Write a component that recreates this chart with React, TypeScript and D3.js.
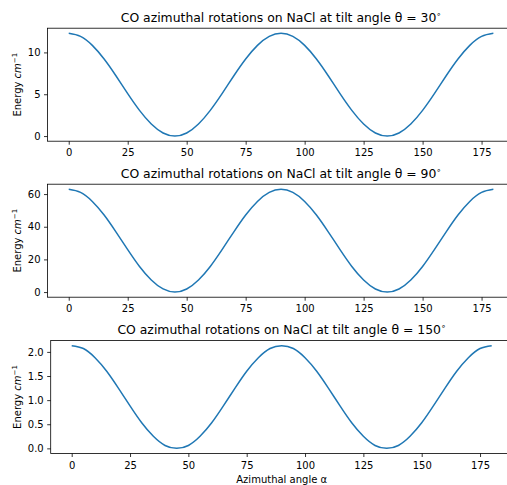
import React, { useEffect, useRef } from 'react';
import * as d3 from 'd3';

// azimuthal angle alpha (degrees)
const alpha = [0, 5, 10, 15, 20, 25, 30, 35, 40, 45, 50, 55, 60, 65, 70, 75, 80, 85, 90,
  95, 100, 105, 110, 115, 120, 125, 130, 135, 140, 145, 150, 155, 160, 165, 170, 175, 180];

// energies (cm^-1)
const energy30 = [12.28, 11.91, 10.84, 9.21, 7.21, 5.07, 3.07, 1.44, 0.37, 0.0, 0.37, 1.44, 3.07, 5.07,
  7.21, 9.21, 10.84, 11.91, 12.28, 11.91, 10.84, 9.21, 7.21, 5.07, 3.07, 1.44, 0.37, 0.0, 0.37, 1.44,
  3.07, 5.07, 7.21, 9.21, 10.84, 11.91, 12.28];
const energy90 = [62.9, 61.0, 55.5, 47.2, 36.9, 26.0, 15.7, 7.4, 1.9, 0.0, 1.9, 7.4, 15.7, 26.0,
  36.9, 47.2, 55.5, 61.0, 62.9, 61.0, 55.5, 47.2, 36.9, 26.0, 15.7, 7.4, 1.9, 0.0, 1.9, 7.4,
  15.7, 26.0, 36.9, 47.2, 55.5, 61.0, 62.9];
const energy150 = [2.13, 2.07, 1.88, 1.6, 1.25, 0.88, 0.53, 0.25, 0.06, 0.0, 0.06, 0.25, 0.53, 0.88,
  1.25, 1.6, 1.88, 2.07, 2.13, 2.07, 1.88, 1.6, 1.25, 0.88, 0.53, 0.25, 0.06, 0.0, 0.06, 0.25,
  0.53, 0.88, 1.25, 1.6, 1.88, 2.07, 2.13];

const tiltAngles = ['30', '90', '150'];
const xTicks = [0, 25, 50, 75, 100, 125, 150, 175];
const yTicks30 = [0, 5, 10];
const yTicks90 = [0, 20, 40, 60];
const yTicks150 = [0, 0.5, 1, 1.5, 2];
const yTickLabels150 = ['0.0', '0.5', '1.0', '1.5', '2.0'];

const FONT = 'DejaVu Sans, sans-serif';

const App = () => {
  const ref = useRef<SVGSVGElement>(null);

  useEffect(() => {
    const svg = d3.select(ref.current);
    svg.selectAll('*').remove();

    const panels = [
      { data: energy30, ticks: yTicks30, labels: yTicks30.map(String), top: 28.2, left: 47.5, right: 514.6 },
      { data: energy90, ticks: yTicks90, labels: yTicks90.map(String), top: 184.2, left: 47.5, right: 514.6 },
      { data: energy150, ticks: yTicks150, labels: yTickLabels150, top: 340.5, left: 50.7, right: 512.7 },
    ];
    const h = 113;

    panels.forEach((p, i) => {
      const g = svg.append('g');
      const bottom = p.top + h;

      // x axis with 5% margins like matplotlib
      const x = d3.scaleLinear().domain([-9, 189]).range([p.left, p.right]);
      const ymax = d3.max(p.data) as number;
      const ymin = d3.min(p.data) as number;
      const pad = (ymax - ymin) * 0.05;
      const y = d3.scaleLinear().domain([ymin - pad, ymax + pad]).range([bottom, p.top]);

      const line = d3.line<number>()
        .x((d, j) => x(alpha[j]))
        .y(d => y(d))
        .curve(d3.curveNatural);

      g.append('path')
        .attr('d', line(p.data))
        .attr('fill', 'none')
        .attr('stroke', '#1f77b4')
        .attr('stroke-width', 1.5);

      // spines
      g.append('rect')
        .attr('x', p.left).attr('y', p.top)
        .attr('width', p.right - p.left).attr('height', h)
        .attr('fill', 'none').attr('stroke', '#000').attr('stroke-width', 0.8);

      const xAxis = g.append('g')
        .attr('transform', `translate(0, ${bottom})`)
        .call(d3.axisBottom(x).tickValues(xTicks).tickSize(3.5).tickPadding(4.7).tickFormat(d => String(d)));
      const yAxis = g.append('g')
        .attr('transform', `translate(${p.left}, 0)`)
        .call(d3.axisLeft(y).tickValues(p.ticks).tickSize(3.5).tickPadding(3.5)
          .tickFormat((d, j) => p.labels[j]));

      [xAxis, yAxis].forEach(a => {
        a.select('.domain').remove();
        a.selectAll('line').attr('stroke', '#000').attr('stroke-width', 0.8);
        a.selectAll('text').attr('font-family', FONT).attr('font-size', 10).attr('fill', '#000');
      });

      // title
      const t = g.append('text')
        .attr('x', (p.left + p.right) / 2)
        .attr('y', p.top - 6.6)
        .attr('text-anchor', 'middle')
        .attr('font-family', FONT)
        .attr('font-size', 12.4)
        .attr('fill', '#000');
      t.append('tspan').text(`CO azimuthal rotations on NaCl at tilt angle θ = ${tiltAngles[i]}`);
      t.append('tspan').attr('font-size', 8).attr('dy', -5).text('∘');

      // y label
      const yl = g.append('text')
        .attr('transform', `translate(21, ${p.top + h / 2}) rotate(-90)`)
        .attr('text-anchor', 'middle')
        .attr('font-family', FONT)
        .attr('font-size', 10)
        .attr('fill', '#000');
      yl.append('tspan').text('Energy ');
      yl.append('tspan').attr('font-style', 'italic').text('cm');
      yl.append('tspan').attr('font-size', 7).attr('dy', -4).text('−1');

      if (i === 2) {
        g.append('text')
          .attr('x', (p.left + p.right) / 2)
          .attr('y', 482.5)
          .attr('text-anchor', 'middle')
          .attr('font-family', FONT)
          .attr('font-size', 10)
          .attr('fill', '#000')
          .text('Azimuthal angle α');
      }
    });
  }, []);

  return (
    <svg ref={ref} width={507} height={485}
      style={{ position: 'absolute', left: 0, top: 0, background: '#fff' }} />
  );
};

export default App;
